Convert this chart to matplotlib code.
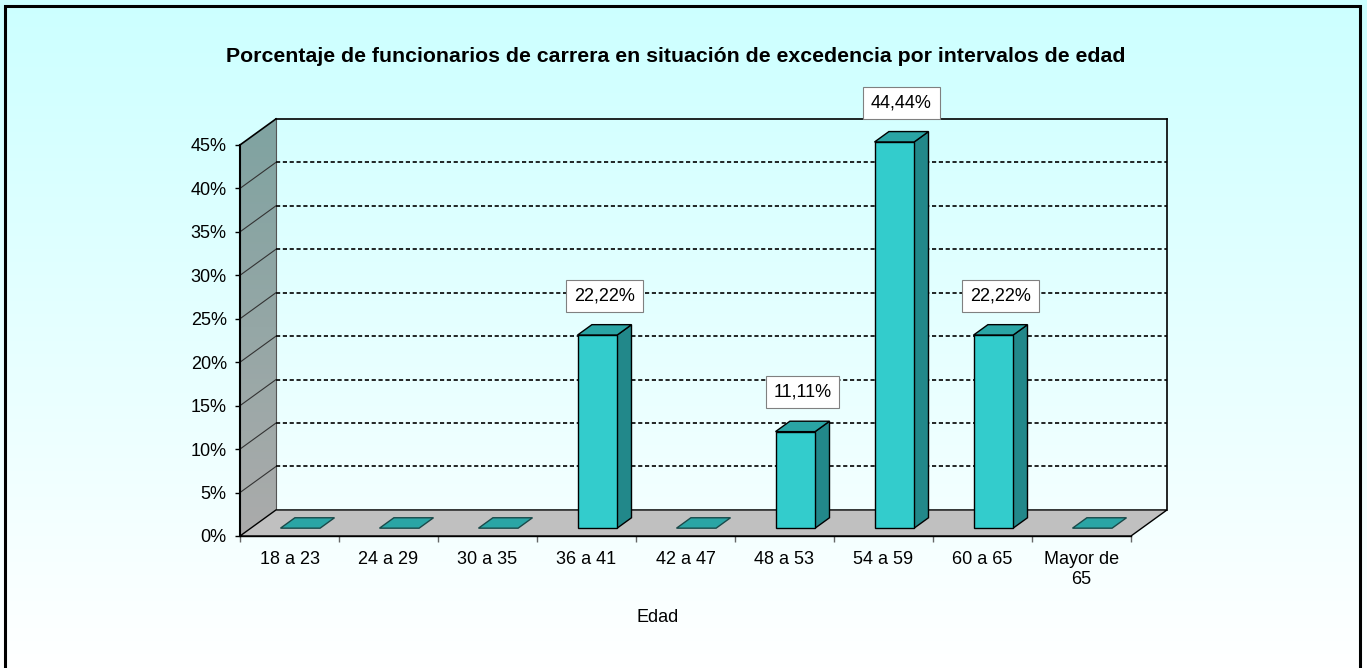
"""Porcentaje de funcionarios de carrera en excedencia por intervalos de edad.

Columnas con aspecto 3D (pared lateral, suelo y pared de fondo) dibujadas
a mano sobre unos ejes 2D normales: la profundidad se proyecta como un
desplazamiento fijo (DX, DZ) en unidades de datos.
"""
import matplotlib.pyplot as plt
import numpy as np
from matplotlib.colors import LinearSegmentedColormap
from matplotlib.patches import Polygon, Rectangle

plt.rcParams["font.family"] = ["Liberation Sans", "DejaVu Sans"]

# datos
categorias = ["18 a 23", "24 a 29", "30 a 35", "36 a 41", "42 a 47",
              "48 a 53", "54 a 59", "60 a 65", "Mayor de\n65"]
porcentajes = [0.0, 0.0, 0.0, 22.22, 0.0, 11.11, 44.44, 22.22, 0.0]
y_ticks = [0, 5, 10, 15, 20, 25, 30, 35, 40, 45]
titulo = ("Porcentaje de funcionarios de carrera en situación de "
          "excedencia por intervalos de edad")
etiqueta_x = "Edad"

# geometría de la figura (px)
W, H = 1367, 668
X0_PX, CAT_PX = 240, 99      # x=0 de la cara frontal, ancho de categoría
Y0_PX, PCT_PX = 536, 8.69    # y=0% de la cara frontal, px por punto %
XLIM = (-0.2, 9.6)
YLIM = (-1.5, 49.5)

# profundidad proyectada
DX = 36 / CAT_PX
DZ = 3.0
YMAX = 45
BAR_W = 0.4
D_FRONT, D_BACK = 0.3, 0.7

C_FRONT = "#33CCCC"
C_TOP = "#2AA5A5"
C_SIDE = "#22888A"


def proj(x, v, d):
    return (x + d * DX, v + d * DZ)


fig = plt.figure(figsize=(W / 100, H / 100), dpi=100)

# fondo degradado cian -> blanco
bg = fig.add_axes([0, 0, 1, 1], zorder=0)
bg.axis("off")
grad = np.linspace(0, 1, 256).reshape(-1, 1)
cmap_bg = LinearSegmentedColormap.from_list("bg", ["#CCFFFF", "#FFFFFF"])
bg.imshow(grad, aspect="auto", cmap=cmap_bg, extent=[0, 1, 0, 1],
          origin="upper")

left = (X0_PX + XLIM[0] * CAT_PX) / W
width = (XLIM[1] - XLIM[0]) * CAT_PX / W
bottom = (H - (Y0_PX - YLIM[0] * PCT_PX)) / H
height = (YLIM[1] - YLIM[0]) * PCT_PX / H
ax = fig.add_axes([left, bottom, width, height], zorder=1)
ax.set_xlim(*XLIM)
ax.set_ylim(*YLIM)
ax.patch.set_alpha(0)
n = len(categorias)

# pared lateral con degradado
side = Polygon([(0, 0), (0, YMAX), (DX, YMAX + DZ), (DX, DZ)],
               closed=True, facecolor="none", edgecolor="none")
ax.add_patch(side)
cmap_side = LinearSegmentedColormap.from_list("side", ["#7FA3A1", "#ABABAB"])
im = ax.imshow(grad, aspect="auto", cmap=cmap_side,
               extent=[0, DX, 0, YMAX + DZ], origin="upper", zorder=1)
im.set_clip_path(side)
ax.set_xlim(*XLIM)
ax.set_ylim(*YLIM)
ax.plot([DX, DX], [DZ, YMAX + DZ], color="#555555", lw=0.8, zorder=2)
for v in y_ticks[1:-1]:
    ax.plot([0, DX], [v, v + DZ], color="#333333", lw=0.8, zorder=2)
ax.plot([0, DX], [YMAX, YMAX + DZ], color="black", lw=1.2, zorder=2)

# suelo
floor = Polygon([(0, 0), (n, 0), (n + DX, DZ), (DX, DZ)], closed=True,
                facecolor="#C0C0C0", edgecolor="black", lw=1.0, zorder=2)
ax.add_patch(floor)

# pared de fondo: líneas de división y borde
for v in y_ticks[1:-1]:
    ax.plot([DX, n + DX], [v + DZ, v + DZ], color="black", lw=1.2,
            ls=(0, (2.5, 1.6)), zorder=2)
ax.plot([DX, n + DX], [YMAX + DZ, YMAX + DZ], color="black", lw=1.2, zorder=2)
ax.plot([n + DX, n + DX], [DZ, YMAX + DZ], color="black", lw=1.2, zorder=2)

# columnas
for i, v in enumerate(porcentajes):
    xl = i + 0.5 - BAR_W / 2
    xr = xl + BAR_W
    top = [proj(xl, v, D_FRONT), proj(xr, v, D_FRONT),
           proj(xr, v, D_BACK), proj(xl, v, D_BACK)]
    if v > 0:
        lado = [proj(xr, 0, D_FRONT), proj(xr, 0, D_BACK),
                proj(xr, v, D_BACK), proj(xr, v, D_FRONT)]
        frente = [proj(xl, 0, D_FRONT), proj(xr, 0, D_FRONT),
                  proj(xr, v, D_FRONT), proj(xl, v, D_FRONT)]
        ax.add_patch(Polygon(lado, closed=True, facecolor=C_SIDE,
                             edgecolor="black", lw=1.0, zorder=3))
        ax.add_patch(Polygon(top, closed=True, facecolor=C_TOP,
                             edgecolor="black", lw=1.0, zorder=3))
        ax.add_patch(Polygon(frente, closed=True, facecolor=C_FRONT,
                             edgecolor="black", lw=1.0, zorder=3))
        etiqueta = f"{v:.2f}".replace(".", ",") + "%"
        ax.annotate(etiqueta, xy=(i + 0.5 + 0.5 * DX, v + 0.5 * DZ),
                    xytext=(0, 24.5), textcoords="offset points",
                    ha="center", va="center", fontsize=13, zorder=5,
                    bbox=dict(boxstyle="square,pad=0.42", facecolor="white",
                              edgecolor="#808080", lw=0.8))
    else:
        ax.add_patch(Polygon(top, closed=True, facecolor=C_TOP,
                             edgecolor="#1A4A4A", lw=1.0, zorder=3))

# ejes
for s in ("top", "right"):
    ax.spines[s].set_visible(False)
ax.spines["left"].set_position(("data", 0))
ax.spines["left"].set_bounds(0, YMAX)
ax.spines["left"].set_linewidth(1.5)
ax.spines["left"].set_zorder(4)
ax.spines["bottom"].set_position(("data", 0))
ax.spines["bottom"].set_bounds(0, n)
ax.spines["bottom"].set_linewidth(1.0)
ax.spines["bottom"].set_zorder(4)

ax.set_yticks(y_ticks)
ax.set_yticklabels([f"{t}%" for t in y_ticks], fontsize=13)
ax.tick_params(axis="y", direction="out", length=3.5, width=1.0, pad=6)

ax.set_xticks(np.arange(n + 1))
ax.set_xticklabels([])
ax.set_xticks(np.arange(n) + 0.5, minor=True)
ax.set_xticklabels(categorias, minor=True, fontsize=13, va="top")
ax.tick_params(axis="x", which="major", direction="out", length=4,
               width=1.0, color="#666666")
ax.tick_params(axis="x", which="minor", length=0, pad=11)

fig.text(676 / W, 1 - 57 / H, titulo, ha="center", va="center",
         fontsize=15.3, fontweight="bold")
fig.text(658 / W, 1 - 617 / H, etiqueta_x, ha="center", va="center",
         fontsize=13)

# marco exterior
fig.patches.append(Rectangle((5 / W, -0.01), 1354.5 / W, 1 - 5.5 / H + 0.01,
                             transform=fig.transFigure, fill=False,
                             edgecolor="black", lw=2.2, zorder=10))

fig.savefig("out.png", dpi=100)
